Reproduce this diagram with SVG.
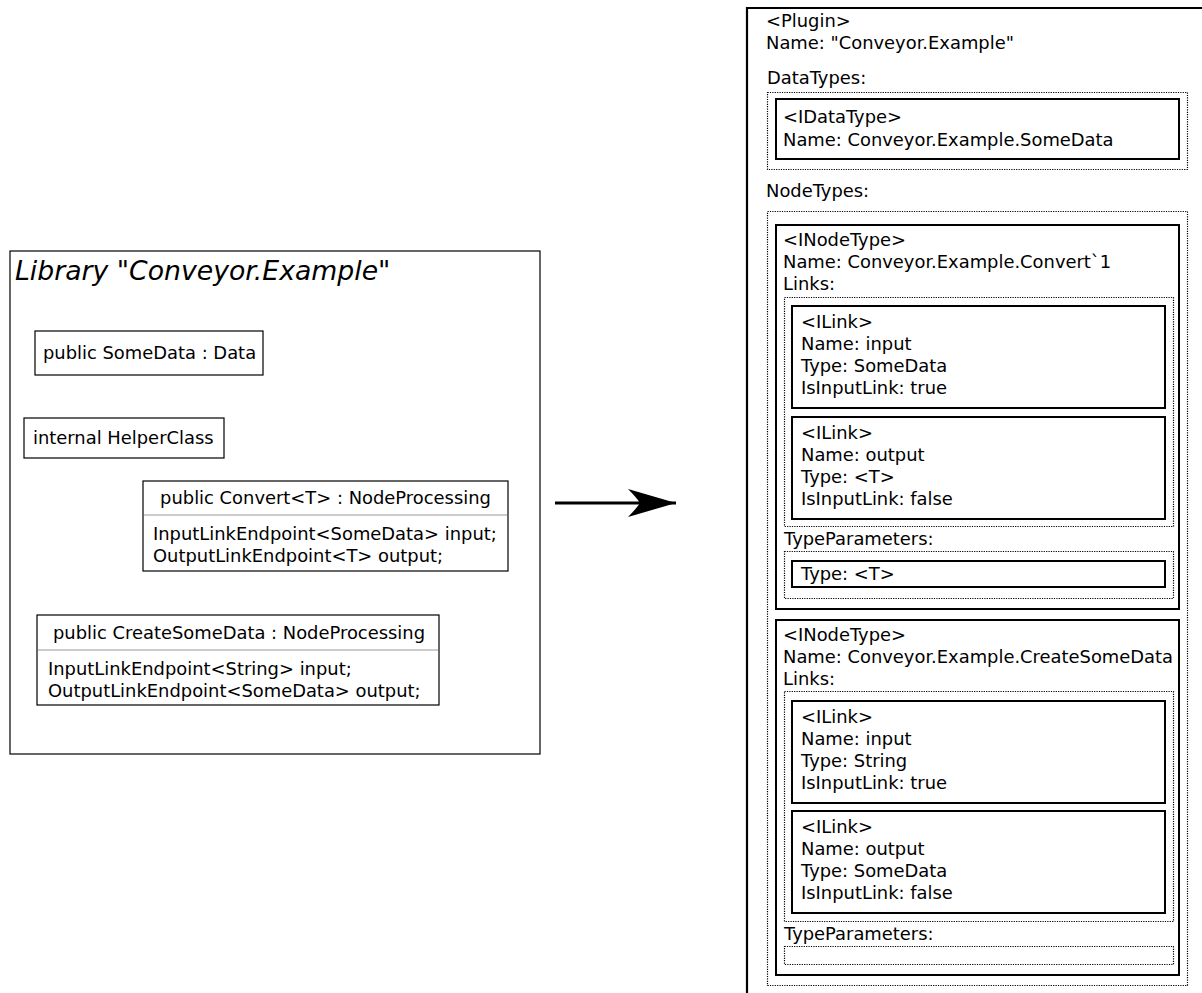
<svg xmlns="http://www.w3.org/2000/svg" width="1202" height="993" viewBox="0 0 1202 993">
  <style>
    text { font-family: "DejaVu Sans", "Liberation Sans", sans-serif; font-size: 17.9px; fill: #000; }
    .title { font-size: 26.7px; font-style: oblique; }
    .up { font-style: normal; }
    .cls { fill: #fff; stroke: #000; stroke-width: 1.2; }
    .sep { stroke: #999; stroke-width: 1; }
    .frame { fill: #fff; stroke: #000; stroke-width: 2.2; }
    .box { fill: none; stroke: #000; stroke-width: 2; }
    .dots { fill: none; stroke: #000; stroke-width: 1.2; stroke-dasharray: 1.2 1.2; }
    .wire { fill: none; stroke: #000; stroke-width: 3; }
  </style>
  <defs>
    <marker id="head" markerUnits="userSpaceOnUse" markerWidth="60" markerHeight="40" viewBox="-50 -20 60 40" refX="0" refY="0" orient="auto">
      <path d="M 0,0 L -48,-14 Q -40,-6 -36,0 Q -40,6 -48,14 Z" fill="#000"/>
    </marker>
  </defs>
  <rect width="1202" height="993" fill="#fff"/>

  <!-- source assembly -->
  <g id="library">
    <rect x="10" y="251" width="530" height="503" class="cls"/>
    <text x="15" y="280" class="title">Library "Conveyor.Example<tspan class="up">"</tspan></text>
  </g>
  <g id="somedata">
    <rect x="35" y="331" width="228" height="44" class="cls"/>
    <text x="43" y="359">public SomeData : Data</text>
  </g>
  <g id="helperclass">
    <rect x="24" y="418" width="200" height="40" class="cls"/>
    <text x="33" y="444">internal HelperClass</text>
  </g>
  <g id="convert">
    <rect x="143" y="481" width="365" height="90" class="cls"/>
    <line x1="144" y1="515" x2="507" y2="515" class="sep"/>
    <text x="325.5" y="504" text-anchor="middle">public Convert&lt;T&gt; : NodeProcessing</text>
    <text x="153" y="540">InputLinkEndpoint&lt;SomeData&gt; input;</text>
    <text x="153" y="562">OutputLinkEndpoint&lt;T&gt; output;</text>
  </g>
  <g id="createsomedata">
    <rect x="37" y="615" width="402" height="90" class="cls"/>
    <line x1="38" y1="650" x2="438" y2="650" class="sep"/>
    <text x="239" y="639" text-anchor="middle">public CreateSomeData : NodeProcessing</text>
    <text x="48" y="675">InputLinkEndpoint&lt;String&gt; input;</text>
    <text x="48" y="697">OutputLinkEndpoint&lt;SomeData&gt; output;</text>
  </g>

  <!-- transformation arrow -->
  <g id="connectors">
    <line x1="555" y1="503" x2="676" y2="503" class="wire" marker-end="url(#head)"/>
  </g>

  <!-- resulting plugin description -->
  <g id="plugin">
    <path d="M 747,1000 V 8 H 1210" class="frame"/>
    <text x="766" y="27">&lt;Plugin&gt;</text>
    <text x="766" y="49">Name: "Conveyor.Example"</text>
    <text x="767" y="84">DataTypes:</text>
    <rect x="767.5" y="92.5" width="420" height="77" class="dots"/>
    <text x="766" y="197">NodeTypes:</text>
    <rect x="767.5" y="211.5" width="420" height="774" class="dots"/>
  </g>
  <g id="datatype-somedata">
    <rect x="776" y="99" width="403" height="60" class="box"/>
    <text x="783" y="123">&lt;IDataType&gt;</text>
    <text x="783" y="146">Name: Conveyor.Example.SomeData</text>
  </g>

  <g id="nodetype-convert">
    <rect x="776" y="225" width="403" height="384" class="box"/>
    <text x="783" y="246">&lt;INodeType&gt;</text>
    <text x="783" y="268">Name: Conveyor.Example.Convert`1</text>
    <text x="783" y="290">Links:</text>
    <rect x="784.5" y="297.5" width="389" height="229" class="dots"/>
    <text x="784" y="545">TypeParameters:</text>
    <rect x="784.5" y="551.5" width="389" height="47" class="dots"/>
  </g>
  <g id="convert-link-input">
    <rect x="792" y="306" width="373" height="102" class="box"/>
    <text x="801" y="328">&lt;ILink&gt;</text>
    <text x="801" y="350">Name: input</text>
    <text x="801" y="372">Type: SomeData</text>
    <text x="801" y="394">IsInputLink: true</text>
  </g>
  <g id="convert-link-output">
    <rect x="792" y="417" width="373" height="102" class="box"/>
    <text x="801" y="439">&lt;ILink&gt;</text>
    <text x="801" y="461">Name: output</text>
    <text x="801" y="483">Type: &lt;T&gt;</text>
    <text x="801" y="505">IsInputLink: false</text>
  </g>
  <g id="convert-typeparam">
    <rect x="792" y="561" width="373" height="26" class="box"/>
    <text x="801" y="580">Type: &lt;T&gt;</text>
  </g>

  <g id="nodetype-createsomedata">
    <rect x="776" y="620" width="403" height="355" class="box"/>
    <text x="783" y="641">&lt;INodeType&gt;</text>
    <text x="783" y="663">Name: Conveyor.Example.CreateSomeData</text>
    <text x="783" y="685">Links:</text>
    <rect x="784.5" y="691.5" width="389" height="230" class="dots"/>
    <text x="784" y="940">TypeParameters:</text>
    <rect x="784.5" y="946.5" width="389" height="18" class="dots"/>
  </g>
  <g id="create-link-input">
    <rect x="792" y="701" width="373" height="102" class="box"/>
    <text x="801" y="723">&lt;ILink&gt;</text>
    <text x="801" y="745">Name: input</text>
    <text x="801" y="767">Type: String</text>
    <text x="801" y="789">IsInputLink: true</text>
  </g>
  <g id="create-link-output">
    <rect x="792" y="811" width="373" height="102" class="box"/>
    <text x="801" y="833">&lt;ILink&gt;</text>
    <text x="801" y="855">Name: output</text>
    <text x="801" y="877">Type: SomeData</text>
    <text x="801" y="899">IsInputLink: false</text>
  </g>
</svg>
